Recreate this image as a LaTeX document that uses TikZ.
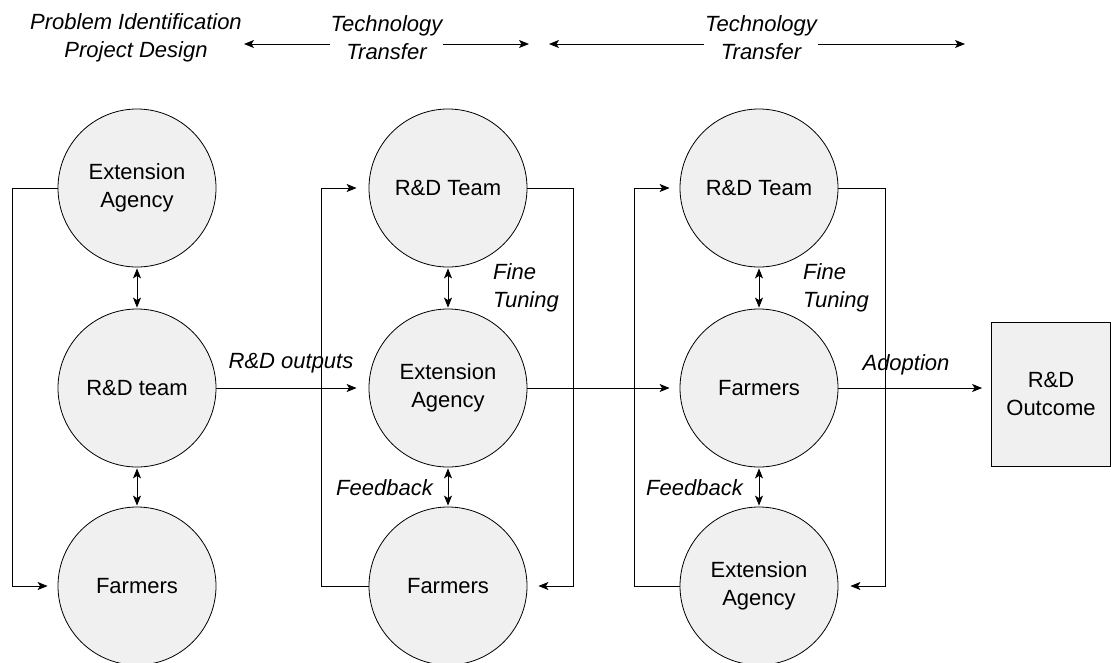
\documentclass[tikz,border=0pt]{standalone}
\usepackage{fontspec}
\setmainfont{Liberation Sans}
\usetikzlibrary{arrows.meta}
\definecolor{cfill}{HTML}{F0F0F0}
\begin{document}
\begin{tikzpicture}[x=1pt,y=-1pt,
  circ/.style={circle,draw=black,fill=cfill,minimum size=158pt,inner sep=0pt,align=center,
    font=\fontsize{22}{28}\selectfont,line width=0.8pt},
  outbox/.style={rectangle,draw=black,fill=cfill,minimum width=119pt,minimum height=144pt,
    inner sep=0pt,align=center,font=\fontsize{22}{28}\selectfont,line width=0.8pt},
  lbl/.style={inner sep=0pt,font=\fontsize{22}{28}\selectfont\itshape},
  arr/.style={line width=0.9pt,-{Stealth[length=10pt,width=8pt,inset=2.5pt]}},
  darr/.style={line width=0.9pt,{Stealth[length=10pt,width=8pt,inset=2.5pt]}-{Stealth[length=10pt,width=8pt,inset=2.5pt]}}
]
\useasboundingbox (0,0) rectangle (1111,662);

% top row
\node[lbl,align=center] (pi) at (136,38) {Problem Identification\\Project Design};
\coordinate (L1) at (244,44);
\coordinate (R1) at (529,44);
\draw[darr] (L1) -- (R1);
\node[lbl,align=center,fill=white,inner xsep=1pt,inner ysep=2pt] (tt1) at (386.5,38) {Technology\\Transfer};
\coordinate (L2) at (549,44);
\coordinate (R2) at (965,44);
\draw[darr] (L2) -- (R2);
\node[lbl,align=center,fill=white,inner xsep=1pt,inner ysep=2pt] (tt2) at (761,38) {Technology\\Transfer};

% circles
\node[circ] (ea1) at (137,188) {Extension\\Agency};
\node[circ] (rd1) at (137,388) {R\&D team};
\node[circ] (f1)  at (137,586) {Farmers};
\node[circ] (rt2) at (448,188) {R\&D Team};
\node[circ] (ea2) at (448,388) {Extension\\Agency};
\node[circ] (f2)  at (448,586) {Farmers};
\node[circ] (rt3) at (759,188) {R\&D Team};
\node[circ] (f3)  at (759,388) {Farmers};
\node[circ] (ea3) at (759,586) {Extension\\Agency};
\node[outbox] (out) at (1051,394) {R\&D\\Outcome};

% vertical double arrows
\draw[darr,shorten <=1pt,shorten >=1pt] (ea1.south) -- (rd1.north);
\draw[darr,shorten <=1pt,shorten >=1pt] (rd1.south) -- (f1.north);
\draw[darr,shorten <=1pt,shorten >=1pt] (rt2.south) -- (ea2.north);
\draw[darr,shorten <=1pt,shorten >=1pt] (ea2.south) -- (f2.north);
\draw[darr,shorten <=1pt,shorten >=1pt] (rt3.south) -- (f3.north);
\draw[darr,shorten <=1pt,shorten >=1pt] (f3.south) -- (ea3.north);

% loops
\draw[arr] (ea1.west) -- ++(-45,0) |- ([xshift=-10pt]f1.west);
\draw[arr] (f2.west) -- ++(-47,0) |- ([xshift=-12pt]rt2.west);
\draw[arr] (rt2.east) -- ++(46,0) |- ([xshift=11pt]f2.east);
\draw[arr] (ea3.west) -- ++(-45,0) |- ([xshift=-10pt]rt3.west);
\draw[arr] (rt3.east) -- ++(47,0) |- ([xshift=12pt]ea3.east);

% horizontal flow
\draw[arr] (rd1.east) -- ([xshift=-12pt]ea2.west);
\draw[arr] (ea2.east) -- ([xshift=-10pt]f3.west);
\draw[arr] (f3.east) -- ([xshift=-9pt]out.west |- f3.east);

% labels
\node[lbl] (lout) at (291,363) {R\&D outputs};
\node[lbl] (ladopt) at (906,365) {Adoption};
\node[lbl,align=left,anchor=west] (ft2) at (493,288) {Fine\\Tuning};
\node[lbl,align=left,anchor=west] (ft3) at (803,288) {Fine\\Tuning};
\node[lbl,anchor=east] (fb2) at (433,488) {Feedback};
\node[lbl,anchor=east] (fb3) at (743,488) {Feedback};
\end{tikzpicture}
\end{document}
